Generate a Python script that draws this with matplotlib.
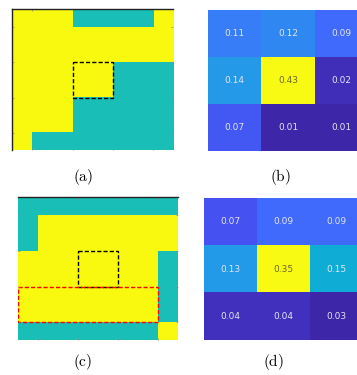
import matplotlib
matplotlib.use("Agg")
import matplotlib.pyplot as plt
from matplotlib.colors import ListedColormap, LinearSegmentedColormap
from matplotlib.patches import Rectangle
import numpy as np

# binary masks (1 = yellow, 0 = teal), 8x8
mask_a = [
    [1, 1, 1, 0, 0, 0, 0, 1],
    [1, 1, 1, 1, 1, 1, 1, 1],
    [1, 1, 1, 1, 1, 1, 1, 1],
    [1, 1, 1, 1, 1, 0, 0, 0],
    [1, 1, 1, 1, 1, 0, 0, 0],
    [1, 1, 1, 0, 0, 0, 0, 0],
    [1, 1, 1, 0, 0, 0, 0, 0],
    [1, 0, 0, 0, 0, 0, 0, 0],
]
mask_c = [
    [0, 0, 0, 0, 0, 0, 0, 0],
    [0, 1, 1, 1, 1, 1, 1, 1],
    [0, 1, 1, 1, 1, 1, 1, 1],
    [1, 1, 1, 1, 1, 1, 1, 0],
    [1, 1, 1, 1, 1, 1, 1, 0],
    [1, 1, 1, 1, 1, 1, 1, 0],
    [1, 1, 1, 1, 1, 1, 1, 0],
    [0, 0, 0, 0, 0, 0, 0, 1],
]

# 3x3 heatmaps
heat_b = [
    [0.11, 0.12, 0.09],
    [0.14, 0.43, 0.02],
    [0.07, 0.01, 0.01],
]
heat_d = [
    [0.07, 0.09, 0.09],
    [0.13, 0.35, 0.15],
    [0.04, 0.04, 0.03],
]

panel_labels = ["(a)", "(b)", "(c)", "(d)"]

# parula-like colormap
parula = LinearSegmentedColormap.from_list("parula", [
    (0.2422, 0.1504, 0.6603), (0.2803, 0.2782, 0.9221), (0.2440, 0.4358, 0.9988),
    (0.1540, 0.5902, 0.9218), (0.0297, 0.7082, 0.8163), (0.1938, 0.7758, 0.6251),
    (0.5044, 0.7993, 0.3480), (0.8000, 0.7406, 0.1569), (0.9892, 0.8136, 0.1885),
    (0.9657, 0.9104, 0.1721), (0.9769, 0.9839, 0.0805)])
binary = ListedColormap(["#19bfb7", "#f8f90e"])

plt.rcParams["mathtext.fontset"] = "cm"
fig = plt.figure(figsize=(3.57, 3.75), dpi=100)


def mask_panel(rect, mask, boxes, spines):
    ax = fig.add_axes(rect)
    ax.imshow(np.array(mask), cmap=binary, vmin=0, vmax=1, extent=[0, 8, 8, 0],
              interpolation="nearest", aspect="auto")
    for (x, y, w, h, c) in boxes:
        ax.add_patch(Rectangle((x, y), w, h, fill=False, edgecolor=c,
                               linestyle=(0, (3, 1.5)), linewidth=1.0))
    ax.set_xlim(0, 8)
    ax.set_ylim(8, 0)
    ax.set_xticks([1, 3, 5, 7])
    ax.set_yticks([1, 3, 5, 7])
    ax.tick_params(direction="in", length=1.5, width=0.5, colors="#888888",
                   labelbottom=False, labelleft=False, top=True, right=True)
    for s in ax.spines:
        ax.spines[s].set_visible(s in spines)
        ax.spines[s].set_color("#222222")
        ax.spines[s].set_linewidth(1.0)
    return ax


def heat_panel(rect, data):
    ax = fig.add_axes(rect)
    arr = np.array(data)
    ax.imshow(arr, cmap=parula, extent=[0, 3, 3, 0], interpolation="nearest",
              aspect="auto")
    top = arr.max()
    for i in range(3):
        for j in range(3):
            col = "#6a6a30" if arr[i, j] == top else "#e4e4f0"
            ax.text(j + 0.5, i + 0.5, f"{arr[i, j]:.2f}", ha="center", va="center",
                    fontsize=6.5, color=col)
    ax.axis("off")
    return ax


mask_panel([0.034, 0.599, 0.451, 0.376], mask_a,
           [(3, 3, 2, 2, "black")], ["top", "left"])
heat_panel([0.583, 0.597, 0.448, 0.376], heat_b)
mask_panel([0.050, 0.093, 0.448, 0.381], mask_c,
           [(3, 3, 2, 2, "black"), (0, 5, 7, 2, "red")], ["top"])
heat_panel([0.571, 0.093, 0.445, 0.379], heat_d)

for (x, y), lab in zip([(83, 177), (280, 177), (83, 362), (273, 362)], panel_labels):
    fig.text(x / 357, 1 - y / 375, "$\\mathrm{" + lab + "}$", ha="center",
             va="center", fontsize=11)

fig.savefig("out.png", dpi=100)
